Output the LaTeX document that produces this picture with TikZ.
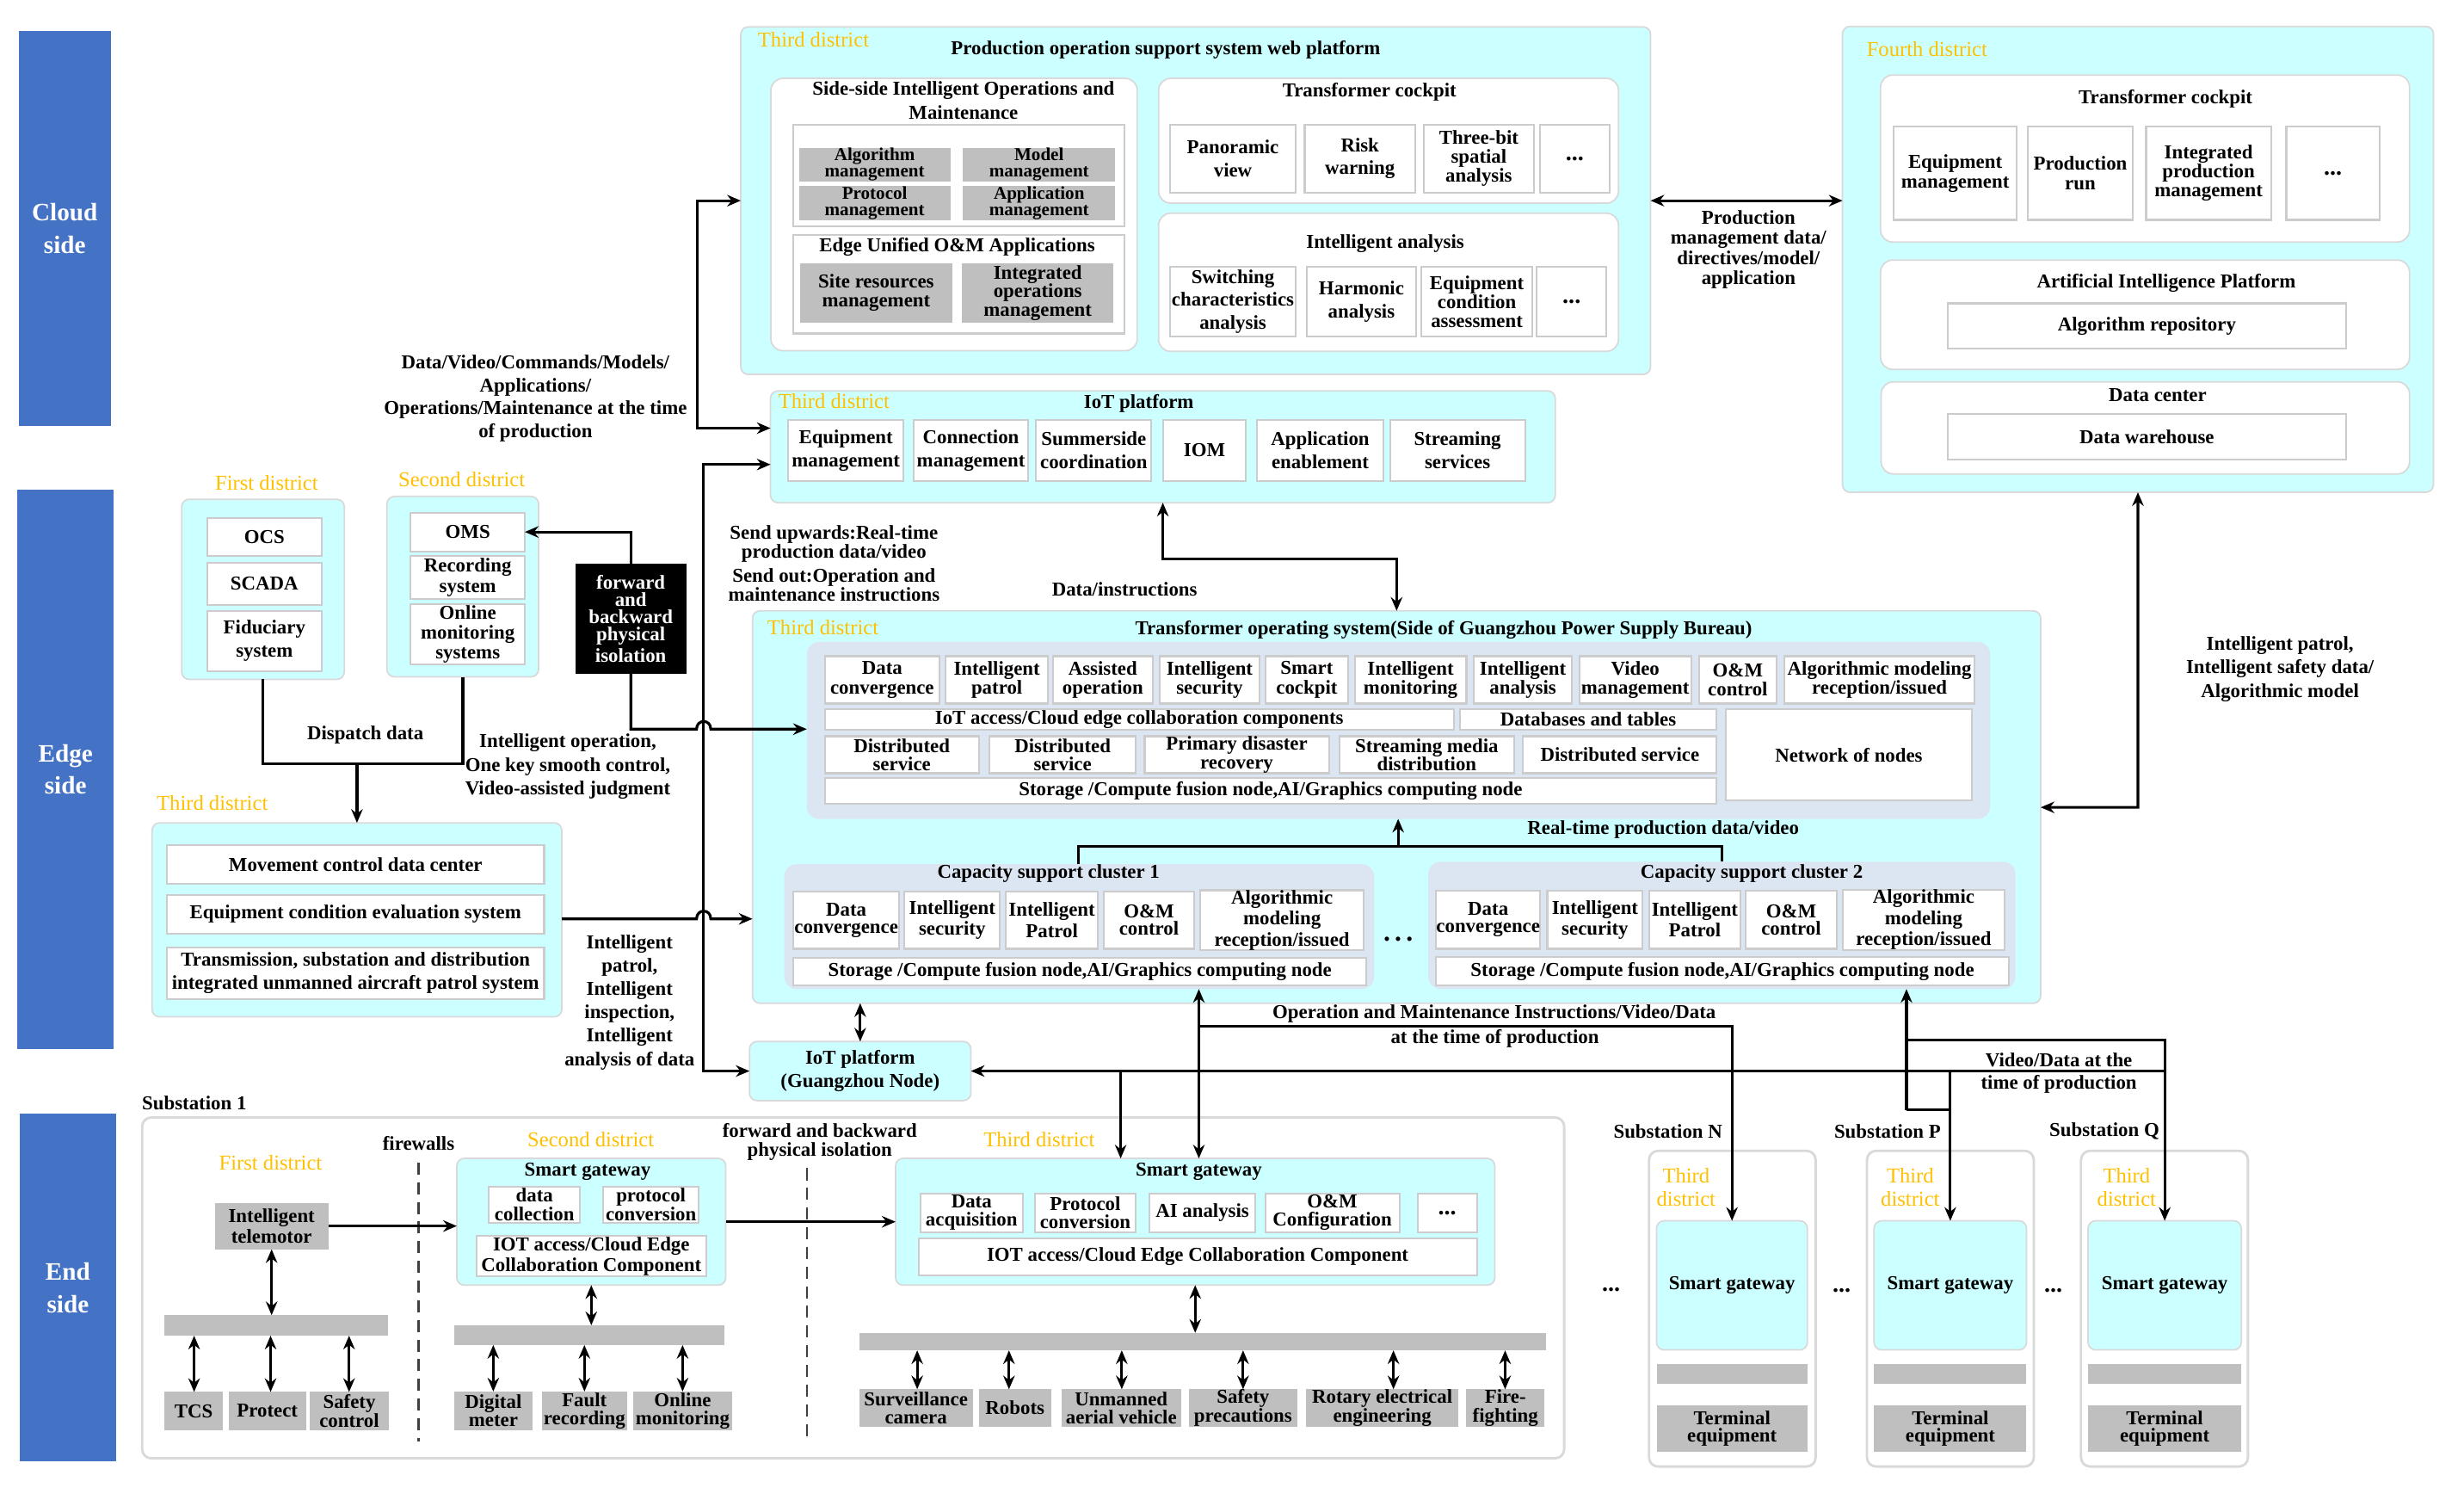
\documentclass[tikz,border=0pt]{standalone}
\usepackage{fontspec}
\setmainfont{Liberation Serif}
\usetikzlibrary{arrows.meta}
\definecolor{cyanF}{HTML}{CCFFFF}
\definecolor{grayF}{HTML}{BFBFBF}
\definecolor{secF}{HTML}{DCE6F2}
\definecolor{sideF}{HTML}{4472C4}
\definecolor{yelF}{HTML}{FFC000}
\newcommand\B[7]{\node[#6, minimum width={(#4-#2)*0.5223pt}, minimum height={(#5-#3)*0.5223pt}] (#1) at ({(#2+#4)/2},{(#3+#5)/2}) {#7};}
\begin{document}
\begin{tikzpicture}[x=0.5223pt,y=-0.5223pt,
 base/.style={inner sep=0pt, outer sep=0pt, align=center, font=\bfseries\fontsize{6.5}{6.4}\selectfont},
 bs/.style={font=\bfseries\fontsize{6.5}{#1}\selectfont},
 tight/.style={font=\bfseries\fontsize{6}{5.5}\selectfont},
 dots/.style={font=\bfseries\fontsize{8}{8}\selectfont},
 cyanbox/.style={base, fill=cyanF, draw=black!15, line width=0.5pt, rounded corners=2.5},
 wbox/.style={base, fill=white, draw=black!15, line width=0.5pt, rounded corners=4},
 item/.style={base, fill=white, draw=black!20, line width=0.6pt},
 gbox/.style={base, fill=grayF},
 secbox/.style={base, fill=secF, rounded corners=4},
 blackbox/.style={base, fill=black, text=white, bs=5.7pt},
 side/.style={base, fill=sideF, text=white, font=\bfseries\fontsize{8.3}{10.7}\selectfont},
 subbox/.style={base, fill=white, draw=black!15, line width=0.8pt, rounded corners=3},
 yel/.style={base, text=yelF, font=\fontsize{7}{7.5}\selectfont},
 lbl/.style={base},
 arr/.style={line width=0.9pt, -{Stealth[length=4.5pt,width=3.8pt]}},
 arr2/.style={line width=0.9pt, {Stealth[length=4.5pt,width=3.8pt]}-{Stealth[length=4.5pt,width=3.8pt]}},
 ln/.style={line width=0.9pt},
 dsh/.style={line width=0.6pt, black!75, dash pattern=on 4pt off 2.5pt}]
\fill[white] (0,0) rectangle (1560,949.4);
\useasboundingbox (0,0) rectangle (1560,949.4);

% side bars
\B{cloud}{12}{19.5}{70}{269.5}{side}{Cloud\\side}
\B{edge}{11}{310}{72}{664}{side}{Edge\\side}
\B{endside}{12.5}{705}{73.5}{925}{side}{End\\side}

% ===== web platform
\B{webp}{469}{17}{1045}{237}{cyanbox}{}
\node[yel] (y1) at (515,25) {Third district};
\node[lbl] (t1) at (738,31.7) {Production operation support system web platform};
\B{sso}{488}{49.6}{720}{222}{wbox}{}
\node[lbl, bs=8.1pt] (t2) at (610,63.5) {Side-side Intelligent Operations and\\Maintenance};
\B{ssoin}{502}{79}{711.7}{143.4}{item}{}
\B{algm}{505.8}{93.8}{601.7}{114.6}{gbox,tight}{Algorithm\\management}
\B{modm}{609.7}{93.8}{706}{114.6}{gbox,tight}{Model\\management}
\B{prom}{505.8}{117.7}{601.7}{139.6}{gbox,tight}{Protocol\\management}
\B{appm}{609.7}{117.7}{706}{139.6}{gbox,tight}{Application\\management}
\B{euo}{502}{148.8}{711.7}{211.1}{item}{}
\node[lbl] (t3) at (606,156.3) {Edge Unified O\&M Applications};
\B{srm}{506.6}{166.7}{602.8}{204.2}{gbox,bs=6.2pt}{Site resources\\management}
\B{iopm}{609}{166.7}{705}{204.2}{gbox,bs=6.1pt}{Integrated\\operations\\management}

\B{tc}{733.5}{49.6}{1024.7}{128.6}{wbox}{}
\node[lbl] (t4) at (867,58.4) {Transformer cockpit};
\B{pan}{740.8}{78.8}{820.3}{121.9}{item,bs=7.6pt}{Panoramic\\view}
\B{risk}{826}{78.8}{896}{121.9}{item,bs=7.6pt}{Risk\\warning}
\B{tbs}{901.3}{78.8}{971.2}{121.9}{item,bs=6.3pt}{Three-bit\\spatial\\analysis}
\B{tcd}{975}{78.8}{1019}{121.9}{item,dots}{...}

\B{ia}{733.5}{135}{1024.7}{222.4}{wbox}{}
\node[lbl] (t5) at (877,154.2) {Intelligent analysis};
\B{sca}{740.8}{168.8}{820.3}{213}{item,bs=7.5pt}{Switching\\characteristics\\analysis}
\B{ha}{827.2}{168.8}{896.7}{213}{item,bs=7.6pt}{Harmonic\\analysis}
\B{eca}{900}{168.8}{970}{213}{item,bs=6.3pt}{Equipment\\condition\\assessment}
\B{iad}{973}{168.8}{1017}{213}{item,dots}{...}

% ===== IoT platform
\B{iotp}{487.8}{247.4}{984.6}{318.2}{cyanbox}{}
\node[yel] (y2) at (528,254) {Third district};
\node[lbl] (t6) at (721,255.5) {IoT platform};
\B{iem}{499}{266}{572}{304.3}{item,bs=7.6pt}{Equipment\\management}
\B{icm}{578.4}{266}{651}{304.3}{item,bs=7.6pt}{Connection\\management}
\B{isc}{656}{266}{729}{304.3}{item,bs=7.6pt}{Summerside\\coordination}
\B{iiom}{736.6}{266}{788.5}{304.3}{item}{IOM}
\B{iae}{796}{266}{875.7}{304.3}{item,bs=7.6pt}{Application\\enablement}
\B{iss}{880}{266}{965.5}{304.3}{item,bs=7.6pt}{Streaming\\services}

% ===== Fourth district
\B{fourth}{1166.5}{16.7}{1540.6}{311.6}{cyanbox}{}
\node[yel] (y3) at (1220,31) {Fourth district};
\B{tc4}{1190.6}{47.5}{1525.5}{153.2}{wbox}{}
\node[lbl] (t7) at (1371,62.5) {Transformer cockpit};
\B{fem}{1199}{80.2}{1276.7}{139.2}{item,bs=6.7pt}{Equipment\\management}
\B{fpr}{1283.7}{80.2}{1350.4}{139.2}{item,bs=6.7pt}{Production\\run}
\B{fipm}{1358.7}{80.2}{1437.8}{139.2}{item,bs=6.3pt}{Integrated\\production\\management}
\B{fdt}{1447.5}{80.2}{1506.4}{139.2}{item,dots}{...}
\B{aip}{1190.6}{164.6}{1525.5}{233.8}{wbox}{}
\node[lbl] (t8) at (1371.5,179.2) {Artificial Intelligence Platform};
\B{algr}{1233}{192}{1485.4}{220.5}{item}{Algorithm repository}
\B{dcen}{1191}{241.7}{1525.5}{300}{wbox}{}
\node[lbl] (t9) at (1366,250) {Data center};
\B{dwh}{1233}{262}{1485.4}{290.7}{item}{Data warehouse}
\node[lbl, bs=6.7pt] (l1) at (1107,158) {Production\\management data/\\directives/model/\\application};

% ===== Edge: first / second district
\node[yel] (y4) at (168.8,305.7) {First district};
\node[yel] (y5) at (292.3,303.2) {Second district};
\B{fd}{115}{316}{218}{430}{cyanbox}{}
\B{ocs}{131.3}{328}{203.5}{352}{item}{OCS}
\B{scada}{131.3}{356.2}{203.5}{382.7}{item}{SCADA}
\B{fid}{131.3}{386.6}{203.5}{424.8}{item,bs=7.6pt}{Fiduciary\\system}
\B{sd}{245}{314.2}{341}{428.4}{cyanbox}{}
\B{oms}{260}{324.4}{332.3}{349}{item}{OMS}
\B{rec}{260}{351.9}{332.3}{379.3}{item,bs=6.9pt}{Recording\\system}
\B{oml}{260}{382.3}{332.3}{420.4}{item,bs=6.5pt}{Online\\monitoring\\systems}
\B{fbi}{364.2}{356.7}{434.5}{426.5}{blackbox}{forward\\and\\backward\\physical\\isolation}
\node[lbl] (l2) at (231.3,465) {Dispatch data};
\node[lbl, bs=7.8pt] (l3) at (359.5,485.3) {Intelligent operation,\\One key smooth control,\\Video-assisted judgment};
\node[yel] (y6) at (134.4,508.2) {Third district};
\B{thd}{96.3}{520.8}{355.7}{643.6}{cyanbox}{}
\B{mcdc}{105.7}{535}{344.5}{559.2}{item}{Movement control data center}
\B{eces}{105.7}{566.5}{344.5}{590.8}{item}{Equipment condition evaluation system}
\B{tsd}{105.7}{599.8}{344.5}{632.2}{item,bs=7.6pt}{Transmission, substation and distribution\\integrated unmanned aircraft patrol system}
\node[lbl, bs=7.7pt] (l4) at (398.6,634.5) {Intelligent\\patrol,\\Intelligent\\inspection,\\Intelligent\\analysis of data};
\node[lbl, bs=7.6pt] (l5) at (339,252.2) {Data/Video/Commands/Models/\\Applications/\\Operations/Maintenance at the time\\of production};
\node[lbl, bs=6.2pt] (l6) at (528,356.7) {Send upwards:Real-time\\production data/video\\[1.8pt]Send out:Operation and\\maintenance instructions};
\node[lbl] (l7) at (712,373.1) {Data/instructions};

% ===== Transformer operating system
\B{tos}{476.4}{386.6}{1292}{635}{cyanbox}{}
\node[yel] (y7) at (521,397) {Third district};
\node[lbl] (t10) at (914,398.5) {Transformer operating system(Side of Guangzhou Power Supply Bureau)};
\B{sec}{510.8}{406.3}{1260}{518.3}{secbox}{}
\B{a1}{522.2}{415.3}{594.8}{445.3}{item}{Data\\convergence}
\B{a2}{598.6}{415.3}{663.6}{445.3}{item}{Intelligent\\patrol}
\B{a3}{666.7}{415.3}{729.7}{445.3}{item}{Assisted\\operation}
\B{a4}{734.3}{415.3}{797.3}{445.3}{item}{Intelligent\\security}
\B{a5}{801.2}{415.3}{853.5}{445.3}{item}{Smart\\cockpit}
\B{a6}{857.7}{415.3}{928.4}{445.3}{item}{Intelligent\\monitoring}
\B{a7}{933}{415.3}{995.3}{445.3}{item}{Intelligent\\analysis}
\B{a8}{999.9}{415.3}{1070.7}{445.3}{item}{Video\\management}
\B{a9}{1075.8}{415.3}{1124.6}{445.3}{item}{O\&M\\control}
\B{a10}{1129.7}{415.3}{1250.2}{445.3}{item,bs=6pt}{Algorithmic modeling\\reception/issued}
\B{b1}{522.2}{448.7}{920.4}{461.8}{item}{IoT access/Cloud edge collaboration components}
\B{b2}{924.2}{448.7}{1086.8}{461.8}{item}{Databases and tables}
\B{nodes}{1092.8}{448.7}{1248.2}{506.8}{item}{Network of nodes}
\B{c1}{522.2}{466}{619.7}{489.4}{item,bs=6pt}{Distributed\\service}
\B{c2}{626.5}{466}{719}{489.4}{item,bs=6pt}{Distributed\\service}
\B{c3}{724.7}{466}{841.3}{489.4}{item,bs=6pt}{Primary disaster\\recovery}
\B{c4}{848}{466}{958.6}{489.4}{item,bs=6pt}{Streaming media\\distribution}
\B{c5}{964.3}{466}{1086.8}{489.4}{item}{Distributed service}
\B{d1}{522.2}{492.3}{1086.8}{508.6}{item}{Storage /Compute fusion node,AI/Graphics computing node}
\node[lbl] (l8) at (1053,525.3) {Real-time production data/video};

\B{cl1}{496.6}{547}{870}{626}{secbox}{}
\node[lbl] (t11) at (663.8,553) {Capacity support cluster 1};
\B{e1}{502.4}{564.3}{569.2}{600.5}{item,bs=5.7pt}{Data\\convergence}
\B{e2}{572.7}{564.3}{633}{600.5}{item,bs=5.7pt}{Intelligent\\security}
\B{e3}{636.9}{564.3}{695}{600.5}{item,bs=5.7pt}{Intelligent\\Patrol}
\B{e4}{698.8}{564.3}{756}{600.5}{item,bs=5.7pt}{O\&M\\control}
\B{e5}{759.9}{564.3}{863.4}{600.5}{item,bs=5.6pt}{Algorithmic\\modeling\\reception/issued}
\B{e6}{502.4}{606.1}{865}{623.7}{item}{Storage /Compute fusion node,AI/Graphics computing node}
\node[lbl, font=\bfseries\fontsize{9}{9}\selectfont] (dd1) at (885.2,594.4) {.\,.\,.};
\B{cl2}{904.3}{545.4}{1276}{626}{secbox}{}
\node[lbl] (t12) at (1109,553) {Capacity support cluster 2};
\B{f1}{909.3}{563.9}{975}{600.5}{item,bs=5.7pt}{Data\\convergence}
\B{f2}{979.6}{563.9}{1040}{600.5}{item,bs=5.7pt}{Intelligent\\security}
\B{f3}{1044}{563.9}{1102}{600.5}{item,bs=5.7pt}{Intelligent\\Patrol}
\B{f4}{1105}{563.9}{1163}{600.5}{item,bs=5.7pt}{O\&M\\control}
\B{f5}{1166.5}{563.9}{1269.3}{600.5}{item,bs=5.6pt}{Algorithmic\\modeling\\reception/issued}
\B{f6}{909.3}{605.7}{1271.7}{623.7}{item}{Storage /Compute fusion node,AI/Graphics computing node}
\node[lbl, bs=7.8pt] (l9) at (1443.5,423.4) {Intelligent patrol,\\Intelligent safety data/\\Algorithmic model};

\B{iotg}{474.5}{659.2}{614.7}{696.6}{cyanbox,bs=7.6pt}{IoT platform\\(Guangzhou Node)}
\node[lbl] (l10) at (946,641.8) {Operation and Maintenance Instructions/Video/Data};
\node[lbl] (l11) at (946.4,657.6) {at the time of production};
\node[lbl] (l12) at (1303.5,670.7) {Video/Data at the};
\node[lbl] (l13) at (1303.5,686.1) {time of production};

% ===== End side
\node[lbl] (s1) at (123,698.4) {Substation 1};
\B{sub1}{90}{707.3}{990.3}{923}{subbox}{}
\node[lbl] (fw) at (265,723.4) {firewalls};
\node[yel] (y8) at (171.3,735.8) {First district};
\node[yel] (y9) at (374,721.2) {Second district};
\node[lbl, bs=6.3pt] (l14) at (519,722.8) {forward and backward\\physical isolation};
\node[yel] (y10) at (657.9,721.2) {Third district};
\draw[dsh] (265,735.8) -- (265,912.2);
\draw[dsh] (510.8,739.4) -- (510.8,912.2);

\B{tel}{136}{761.3}{207.9}{790.7}{gbox,bs=5.9pt}{Intelligent\\telemotor}
\B{bar1}{104}{832.4}{245.4}{845.4}{gbox}{}
\B{tcs}{104}{881}{141.3}{905.1}{gbox}{TCS}
\B{prot}{144.7}{881}{193.8}{905.1}{gbox}{Protect}
\B{safc}{196.3}{881}{246}{905.1}{gbox,bs=6.1pt}{Safety\\control}

\B{sg2}{289.2}{733.2}{459.5}{813.4}{cyanbox}{}
\node[lbl] (t13) at (372,741.7) {Smart gateway};
\B{dcol}{309.5}{751}{367.3}{773.8}{item,bs=6.3pt}{data\\collection}
\B{pcon}{382}{751}{442.3}{773.8}{item,bs=6.3pt}{protocol\\conversion}
\B{iotc2}{301.7}{782.2}{447}{808}{item,bs=5.8pt}{IOT access/Cloud Edge\\Collaboration Component}
\B{bar2}{287.6}{838.8}{458.6}{851.3}{gbox}{}
\B{dmet}{287.6}{880.7}{337}{905.1}{gbox,bs=6pt}{Digital\\meter}
\B{frec}{343}{880.7}{397}{905.1}{gbox,bs=6pt}{Fault\\recording}
\B{omon}{401}{880.7}{463.3}{905.1}{gbox,bs=6pt}{Online\\monitoring}

\B{tdsg}{567}{733.2}{946.4}{813.4}{cyanbox}{}
\node[lbl] (t14) at (759,741.7) {Smart gateway};
\B{g1}{582.6}{755.4}{647.6}{779.8}{item,bs=6pt}{Data\\acquisition}
\B{g2}{655.2}{755.4}{719}{779.8}{item,bs=6pt}{Protocol\\conversion}
\B{g3}{727.8}{755.4}{794.7}{779.8}{item}{AI analysis}
\B{g4}{801}{755.4}{886}{779.8}{item,bs=6pt}{O\&M\\Configuration}
\B{g5}{897.5}{755.4}{935}{779.8}{item,dots}{...}
\B{tiot}{581.5}{783.6}{935}{807.1}{item}{IOT access/Cloud Edge Collaboration Component}
\B{bar3}{544}{843.6}{979}{854.7}{gbox}{}
\B{h1}{544}{879.3}{615.8}{903}{gbox,bs=6.1pt}{Surveillance\\camera}
\B{h2}{619.7}{879.3}{665.5}{903}{gbox}{Robots}
\B{h3}{672}{879.3}{747.7}{903}{gbox,bs=6.1pt}{Unmanned\\aerial vehicle}
\B{h4}{752.6}{879.3}{821.4}{903}{gbox,bs=6.1pt}{Safety\\precautions}
\B{h5}{826.8}{879.3}{923.4}{903}{gbox,bs=6.1pt}{Rotary electrical\\engineering}
\B{h6}{928.4}{879.3}{977.7}{903}{gbox,bs=6.1pt}{Fire-\\fighting}

% substations N P Q
\node[lbl] (sN) at (1056,716) {Substation N};
\node[lbl] (sP) at (1195,716) {Substation P};
\node[lbl] (sQ) at (1332.3,716) {Substation Q};
\B{subN}{1044}{728.4}{1149.5}{928.2}{subbox}{}
\B{subP}{1182}{728.4}{1287.6}{928.2}{subbox}{}
\B{subQ}{1317.5}{728.4}{1423.2}{928.2}{subbox}{}
\node[yel] (yN) at (1067.5,751.4) {Third\\district};
\node[yel] (yP) at (1209.4,751.4) {Third\\district};
\node[yel] (yQ) at (1346.4,751.4) {Third\\district};
\B{sgN}{1048.8}{772.7}{1144.3}{854.4}{cyanbox}{Smart gateway}
\B{sgP}{1186.5}{772.7}{1283}{854.4}{cyanbox}{Smart gateway}
\B{sgQ}{1322}{772.7}{1419}{854.4}{cyanbox}{Smart gateway}
\B{brN}{1048.8}{863.3}{1144.3}{876}{gbox}{}
\B{brP}{1186.5}{863.3}{1283}{876}{gbox}{}
\B{brQ}{1322}{863.3}{1419}{876}{gbox}{}
\B{teN}{1048.8}{889.5}{1144.3}{919}{gbox,bs=5.9pt}{Terminal\\equipment}
\B{teP}{1186.5}{889.5}{1283}{919}{gbox,bs=5.9pt}{Terminal\\equipment}
\B{teQ}{1322}{889.5}{1419}{919}{gbox,bs=5.9pt}{Terminal\\equipment}
\node[lbl,dots] (dn1) at (1020,816.5) {...};
\node[lbl,dots] (dn2) at (1166,817) {...};
\node[lbl,dots] (dn3) at (1300,817) {...};

% ===== connectors
\draw[arr2] (webp.east) -- (webp.east -| fourth.west);
\draw[arr2] (webp.west) -- (441.5,127) -- (441.5,271) -- (iotp.west |- 0,271);
\draw[arr2] (iotp.west |- 0,294) -- (445.5,294) -- (445.5,677.9) -- (iotg.west);
\draw[arr2] (iotp.south -| 736.2,0) -- (736.2,354) -- (884.2,354) -- (tos.north);
\draw[arr2] (fourth.south) -- (1353.5,511) -- (tos.east |- 0,511);
\draw[arr] (fbi.north) |- (oms.east);
\draw[arr] (fbi.south) |- (441,461.5) .. controls (441,455) and (450,455) .. (450,461.5) -- (sec.west |- 0,461.5);
\draw[ln] (fd.south) |- (sd.south |- 0,483.6) -- (sd.south);
\draw[arr] (thd.north |- 0,483.6) -- (thd.north);
\draw[arr] (thd.east |- 0,581.6) -- (441,581.6) .. controls (441,575) and (450,575) .. (450,581.6) -- (tos.west |- 0,581.6);
\draw[ln] (cl1.north -| 682.7,0) -- (682.7,535.7) -- (1090,535.7) -- (cl2.north -| 1090,0);
\draw[arr] (885.2,535.7) -- (sec.south -| 885.2,0);
\draw[arr2] (tos.south -| iotg.north) -- (iotg.north);
\draw[arr] (1370.5,677.9) -- (iotg.east);
\draw[arr] (709.5,677.9) -- (tdsg.north -| 709.5,0);
\draw[arr2] (cl1.south -| 759,0) -- (tdsg.north -| 759,0);
\draw[arr] (759,649.7) -| (sgN.north);
\draw[arr] (1207,702.6) -- (cl2.south -| 1207,0);
\draw[ln] (1207,702.6) -- (1234.75,702.6);
\draw[arr] (1207,658.3) -| (sgQ.north);
\draw[arr] (1234.75,677.9) -- (sgP.north);

\draw[arr] (tel.east) -- (tel.east -| sg2.west);
\draw[arr] (sg2.east) -- (tdsg.west);
\draw[arr2] (tel.south) -- (tel.south |- bar1.north);
\draw[arr2] (bar1.south -| 122.9,0) -- (tcs.north -| 122.9,0);
\draw[arr2] (bar1.south -| 171.3,0) -- (prot.north -| 171.3,0);
\draw[arr2] (bar1.south -| 221,0) -- (safc.north -| 221,0);
\draw[arr2] (sg2.south) -- (sg2.south |- bar2.north);
\draw[arr2] (bar2.south -| dmet.north) -- (dmet.north);
\draw[arr2] (bar2.south -| frec.north) -- (frec.north);
\draw[arr2] (bar2.south -| omon.north) -- (omon.north);
\draw[arr2] (tdsg.south) -- (tdsg.south |- bar3.north);
\draw[arr2] (bar3.south -| 580.7,0) -- (h1.north -| 580.7,0);
\draw[arr2] (bar3.south -| 638.8,0) -- (h2.north -| 638.8,0);
\draw[arr2] (bar3.south -| 710.2,0) -- (h3.north -| 710.2,0);
\draw[arr2] (bar3.south -| 787,0) -- (h4.north -| 787,0);
\draw[arr2] (bar3.south -| 882.2,0) -- (h5.north -| 882.2,0);
\draw[arr2] (bar3.south -| 952.9,0) -- (h6.north -| 952.9,0);
\end{tikzpicture}
\end{document}
